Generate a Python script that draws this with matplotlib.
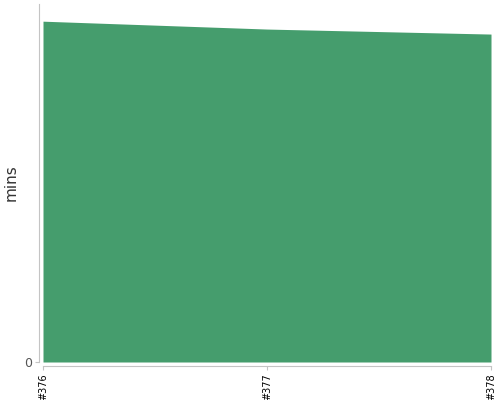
import matplotlib
matplotlib.use("Agg")
import matplotlib.pyplot as plt

builds = ["#376", "#377", "#378"]
mins = [95.2, 93.0, 91.6]

fig = plt.figure(figsize=(5, 4), dpi=100)
ax = fig.add_axes([0.086, 0.095, 0.896, 0.895])

x = list(range(len(builds)))
ax.fill_between(x, 0, mins, color="#459d6d", linewidth=0)

ax.set_xlim(0, len(builds) - 1)
ax.set_ylim(0, 100)
ax.set_xticks(x)
ax.set_xticklabels(builds)
ax.set_yticks([0])
ax.set_yticklabels(["0"])
ax.tick_params(axis="x", labelrotation=90, labelsize=7, labelcolor="black")
ax.tick_params(axis="y", labelsize=9, labelcolor="#555555")
ax.tick_params(axis="both", color="#c4c4c4", length=3, pad=2)

ax.set_ylabel("mins", fontsize=11, color="#333333")
ax.yaxis.set_label_coords(-0.055, 0.5)

for s in ["top", "right"]:
    ax.spines[s].set_visible(False)
for s in ["left", "bottom"]:
    ax.spines[s].set_position(("outward", 3))
    ax.spines[s].set_color("#c4c4c4")

fig.savefig("out.png", dpi=100)
